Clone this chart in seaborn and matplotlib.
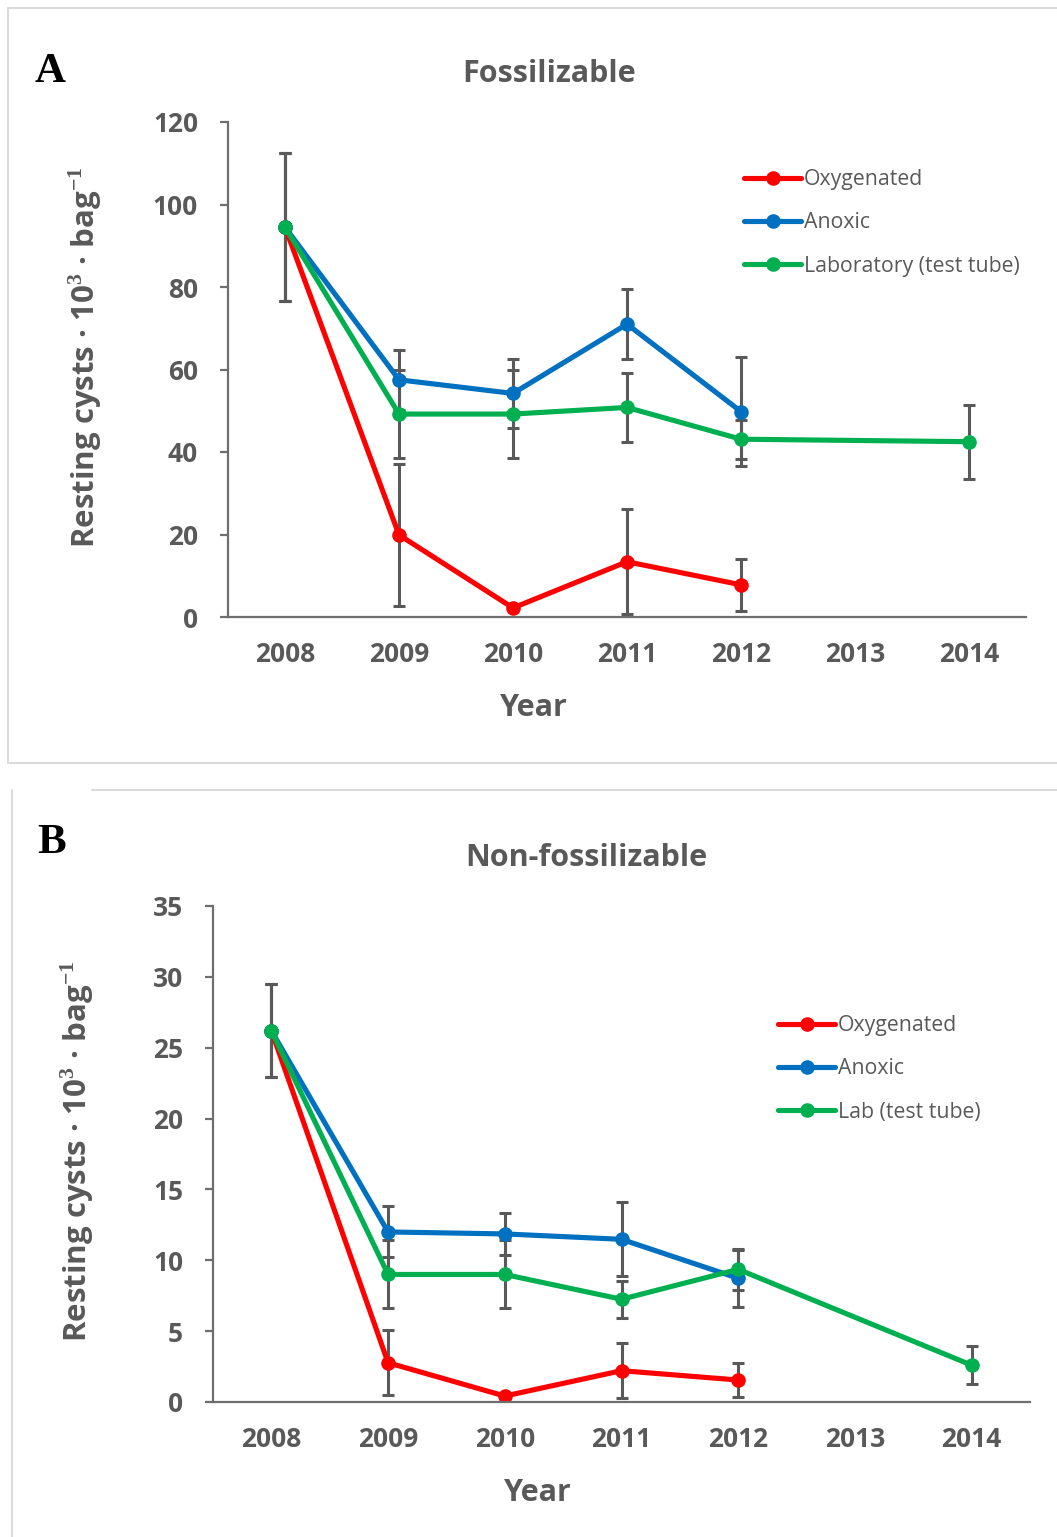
import matplotlib
matplotlib.use("Agg")
import matplotlib.pyplot as plt
from matplotlib.lines import Line2D
import seaborn as sns
import pandas as pd
import numpy as np

# ---------------- data ----------------
years_field = [2008, 2009, 2010, 2011, 2012]
years_lab = [2008, 2009, 2010, 2011, 2012, 2014]
xticks = [2008, 2009, 2010, 2011, 2012, 2013, 2014]

# Panel A: Fossilizable
oxy_A = [94.5, 19.9, 2.2, 13.4, 7.8]
oxy_A_err = [18.0, 17.2, 0.0, 12.7, 6.3]
anox_A = [94.5, 57.5, 54.2, 71.0, 49.8]
anox_A_err = [18.0, 7.2, 8.3, 8.4, 13.3]
lab_A = [94.5, 49.2, 49.2, 50.8, 43.1, 42.5]
lab_A_err = [18.0, 10.7, 10.7, 8.4, 4.7, 9.0]
labels_A = ["Oxygenated", "Anoxic", "Laboratory (test tube)"]

# Panel B: Non-fossilizable
oxy_B = [26.2, 2.77, 0.42, 2.21, 1.55]
oxy_B_err = [3.3, 2.3, 0.0, 1.95, 1.2]
anox_B = [26.2, 12.0, 11.86, 11.48, 8.73]
anox_B_err = [3.3, 1.8, 1.5, 2.6, 2.0]
lab_B = [26.2, 9.0, 9.0, 7.25, 9.36, 2.6]
lab_B_err = [3.3, 2.4, 2.4, 1.3, 1.45, 1.34]
labels_B = ["Oxygenated", "Anoxic", "Lab (test tube)"]

colors = ["#FF0000", "#0070C0", "#00B050"]
GRAY = "#595959"
SPINE = "#6e6e6e"

sns.set_style("white")
FONT = ["Open Sans", "DejaVu Sans"]
plt.rcParams["font.family"] = FONT
plt.rcParams["mathtext.fontset"] = "custom"
plt.rcParams["mathtext.rm"] = "Liberation Serif"
plt.rcParams["mathtext.bf"] = "Liberation Serif:bold"

W, H = 1057, 1537
fig = plt.figure(figsize=(W / 100, H / 100), dpi=100)


def px_rect(l, t, r, b):
    return [l / W, 1 - b / H, (r - l) / W, (b - t) / H]


def draw_panel(ax, series, labels, ylim, ystep, legend_anchor, xlab_pos, ylab_pos):
    frames = []
    for (yrs, vals, _), lab in zip(series, labels):
        frames.append(pd.DataFrame({"Year": yrs, "Value": vals, "Series": lab}))
    df = pd.concat(frames, ignore_index=True)
    for (yrs, vals, err) in series:
        ax.errorbar(yrs, vals, yerr=err, fmt="none", ecolor=GRAY,
                    elinewidth=2.2, capsize=4.5, capthick=2.2, zorder=1.5)
    sns.lineplot(data=df, x="Year", y="Value", hue="Series", hue_order=labels,
                 palette=colors, marker="o", markersize=10.5, markeredgewidth=0,
                 linewidth=3.7, sort=False, ax=ax, zorder=2)
    ax.set_xlim(2007.5, 2014.5)
    ax.set_ylim(*ylim)
    ax.set_xticks(xticks)
    ax.set_yticks(np.arange(ylim[0], ylim[1] + 0.01, ystep))
    ax.set_xticklabels([str(x) for x in xticks])
    for sp in ["top", "right"]:
        ax.spines[sp].set_visible(False)
    for sp in ["left", "bottom"]:
        ax.spines[sp].set_color(SPINE)
        ax.spines[sp].set_linewidth(1.6)
    ax.tick_params(axis="y", length=5.5, width=1.6, color=SPINE, pad=16,
                   labelsize=19, labelcolor=GRAY, direction="out", left=True)
    ax.tick_params(axis="x", length=0, pad=17, labelsize=19, labelcolor=GRAY)
    for t in ax.get_xticklabels() + ax.get_yticklabels():
        t.set_fontweight("bold")
    ax.set_xlabel("Year", fontsize=22, fontweight="bold", color=GRAY)
    ax.xaxis.set_label_coords(*xlab_pos)
    ax.set_ylabel(r"Resting cysts · 10$^{\mathbf{3}}$ · bag$^{\mathbf{-1}}$",
                  fontsize=22.5, fontweight="bold", color=GRAY)
    ax.yaxis.set_label_coords(*ylab_pos)
    handles, labs = ax.get_legend_handles_labels()
    leg = ax.legend(handles, labs, loc="upper left",
                    bbox_to_anchor=legend_anchor, bbox_transform=fig.transFigure,
                    frameon=False, fontsize=15.3, handlelength=2.7,
                    handletextpad=0.12, labelspacing=1.05, borderpad=0,
                    borderaxespad=0)
    for t in leg.get_texts():
        t.set_color(GRAY)


# Panel A
axA = fig.add_axes(px_rect(228, 122, 1026, 617))
draw_panel(axA,
           [(years_field, oxy_A, oxy_A_err), (years_field, anox_A, anox_A_err),
            (years_lab, lab_A, lab_A_err)],
           labels_A, (0, 120), 20,
           (744 / W, 1 - 169 / H), (0.383, -0.154), (-0.155, 0.525))

# Panel B
axB = fig.add_axes(px_rect(213, 906, 1030, 1402))
draw_panel(axB,
           [(years_field, oxy_B, oxy_B_err), (years_field, anox_B, anox_B_err),
            (years_lab, lab_B, lab_B_err)],
           labels_B, (0, 35), 5,
           (778 / W, 1 - 1015 / H), (0.398, -0.154), (-0.143, 0.506))

# titles
fig.text(549 / W, 1 - 74 / H, "Fossilizable", ha="center", va="center",
         fontsize=22, fontweight="bold", color=GRAY)
fig.text(586 / W, 1 - 858 / H, "Non-fossilizable", ha="center", va="center",
         fontsize=22, fontweight="bold", color=GRAY)

# panel letters
fig.text(35 / W, 1 - 82 / H, "A", ha="left", va="baseline",
         family="Liberation Serif", fontweight="bold", fontsize=31, color="black")
fig.text(37 / W, 1 - 853 / H, "B", ha="left", va="baseline",
         family="Liberation Serif", fontweight="bold", fontsize=31, color="black")

# panel borders
BORDER = "#d9d9d9"
def fline(x0, y0, x1, y1):
    fig.add_artist(Line2D([x0 / W, x1 / W], [1 - y0 / H, 1 - y1 / H],
                          transform=fig.transFigure, color=BORDER, lw=1.4))

fline(8, 7.5, W, 7.5)
fline(8, 7.5, 8, 763)
fline(8, 763, W, 763)
fline(12, 790, 12, H)
fline(92, 790, W, 790)

fig.savefig("out.png", dpi=100)
